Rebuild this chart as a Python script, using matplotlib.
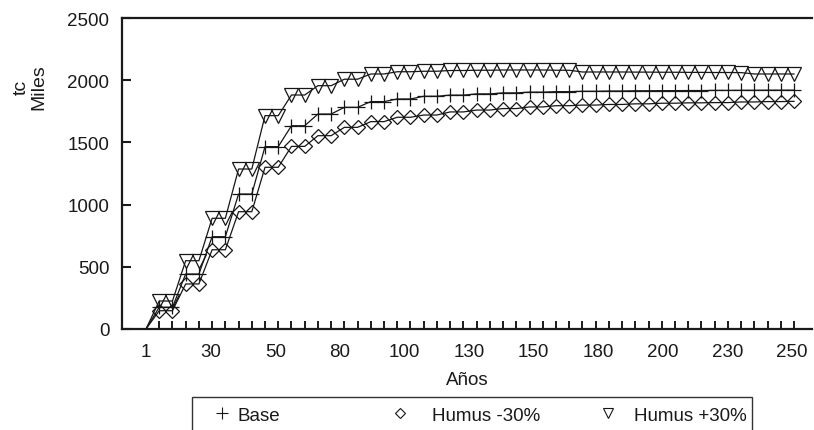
import numpy as np
import matplotlib
matplotlib.use('Agg')
import matplotlib.pyplot as plt
from matplotlib.lines import Line2D
from matplotlib.patches import Rectangle
from matplotlib.ticker import FixedLocator, NullFormatter

plt.rcParams['font.family'] = ['Liberation Sans', 'DejaVu Sans']

# ---- data ----
x_tick_labels = ['1', '30', '50', '80', '100', '130', '150', '180', '200', '230', '250']
y_ticks = [0, 500, 1000, 1500, 2000, 2500]
series_names = ['Base', 'Humus -30%', 'Humus +30%']

base = [0, 175, 175, 442, 442, 742, 742, 1085, 1085, 1466, 1466, 1634, 1634,
        1728, 1728, 1782, 1782, 1828, 1828, 1849, 1849, 1871, 1871, 1880, 1880,
        1890, 1890, 1898, 1898, 1904, 1904, 1908, 1908, 1911, 1911, 1913, 1913,
        1915, 1915, 1916, 1916, 1917, 1917, 1918, 1918, 1919, 1919, 1920, 1920, 1920]

humus_minus = [0, 147, 147, 362, 362, 637, 637, 943, 943, 1300, 1300, 1468, 1468,
               1554, 1554, 1621, 1621, 1667, 1667, 1702, 1702, 1720, 1720, 1745, 1745,
               1760, 1760, 1772, 1772, 1785, 1785, 1795, 1795, 1800, 1800, 1805, 1805,
               1810, 1810, 1815, 1815, 1818, 1818, 1820, 1820, 1825, 1825, 1828, 1828, 1830]

humus_plus = [0, 225, 225, 549, 549, 890, 890, 1286, 1286, 1715, 1715, 1881, 1881,
              1956, 1956, 2008, 2008, 2050, 2050, 2068, 2068, 2072, 2072, 2078, 2078,
              2080, 2080, 2082, 2082, 2082, 2082, 2080, 2080, 2066, 2066, 2066, 2066,
              2065, 2065, 2064, 2064, 2063, 2063, 2062, 2062, 2061, 2050, 2050, 2050, 2050]

# ---- figure ----
W, H = 814, 431
fig = plt.figure(figsize=(W / 100, H / 100), dpi=100)
ax = fig.add_axes([122 / W, 1 - 330 / H, 690 / W, 311 / H])

idx = np.arange(len(base))
col = '#161616'
mk_every = list(range(1, len(base)))
ax.plot(idx, base, color=col, lw=0.9, marker='+', ms=9.5, mew=0.9,
        markevery=mk_every, zorder=3)
ax.plot(idx, humus_minus, color=col, lw=0.9, marker='D', ms=6.8, mew=0.9,
        mfc='none', mec=col, markevery=mk_every, zorder=3)
ax.plot(idx, humus_plus, color=col, lw=0.9, marker='v', ms=10, mew=0.9,
        mfc='none', mec=col, markevery=mk_every, zorder=3)

step = 13.22
ax.set_xlim(-(146 - 122) / step, 49 + (812 - 794) / step)
ax.set_ylim(0, 2500)

# spines
for s in ['left', 'bottom', 'top']:
    ax.spines[s].set_linewidth(1.6)
    ax.spines[s].set_color('#1a1a1a')
ax.spines['right'].set_visible(False)

# y ticks
ax.set_yticks(y_ticks)
ax.set_yticklabels([str(v) for v in y_ticks])
ax.tick_params(axis='y', direction='in', length=6.5, width=1.5, pad=9,
               labelsize=13.5, colors='#1a1a1a')

# x ticks: minor ticks at each point, labels at major positions without marks
label_pos = np.linspace(0, 48.85, len(x_tick_labels))
ax.xaxis.set_major_locator(FixedLocator(label_pos))
ax.set_xticklabels(x_tick_labels)
ax.xaxis.set_minor_locator(FixedLocator(idx))
ax.xaxis.set_minor_formatter(NullFormatter())
ax.tick_params(axis='x', which='major', length=0, pad=10, labelsize=13.5,
               colors='#1a1a1a')
ax.tick_params(axis='x', which='minor', direction='in', length=5.5, width=1.4,
               color='#1a1a1a')

# axis titles
fig.text(467 / W, 1 - 381 / H, 'Años', ha='center', va='center', fontsize=13.5,
         color='#1a1a1a')
fig.text(30 / W, 1 - 87 / H, 'tc\nMiles', ha='center', va='center', rotation=90,
         fontsize=14, multialignment='center', color='#1a1a1a', linespacing=1.0)

# legend (drawn manually to match the boxed layout)
fig.add_artist(Rectangle((192 / W, 1 - 440 / H), (752 - 192) / W, (440 - 398) / H,
                         transform=fig.transFigure, fill=False, lw=1.0,
                         edgecolor='#333333'))
leg_y = 1 - 414 / H
markers = ['+', 'D', 'v']
msizes = [8, 5.5, 7.5]
mx = [222, 400, 608]
tx = [238, 432, 634]
for name, m, ms, x0, x1 in zip(series_names, markers, msizes, mx, tx):
    fig.add_artist(Line2D([x0 / W], [leg_y], marker=m, ms=ms, mew=0.8,
                          mfc='none', mec=col, color=col, lw=0,
                          transform=fig.transFigure))
    fig.text(x1 / W, 1 - 421.5 / H, name, ha='left', va='baseline', fontsize=13.5,
             color='#1a1a1a')

fig.savefig('out.png', dpi=100)
